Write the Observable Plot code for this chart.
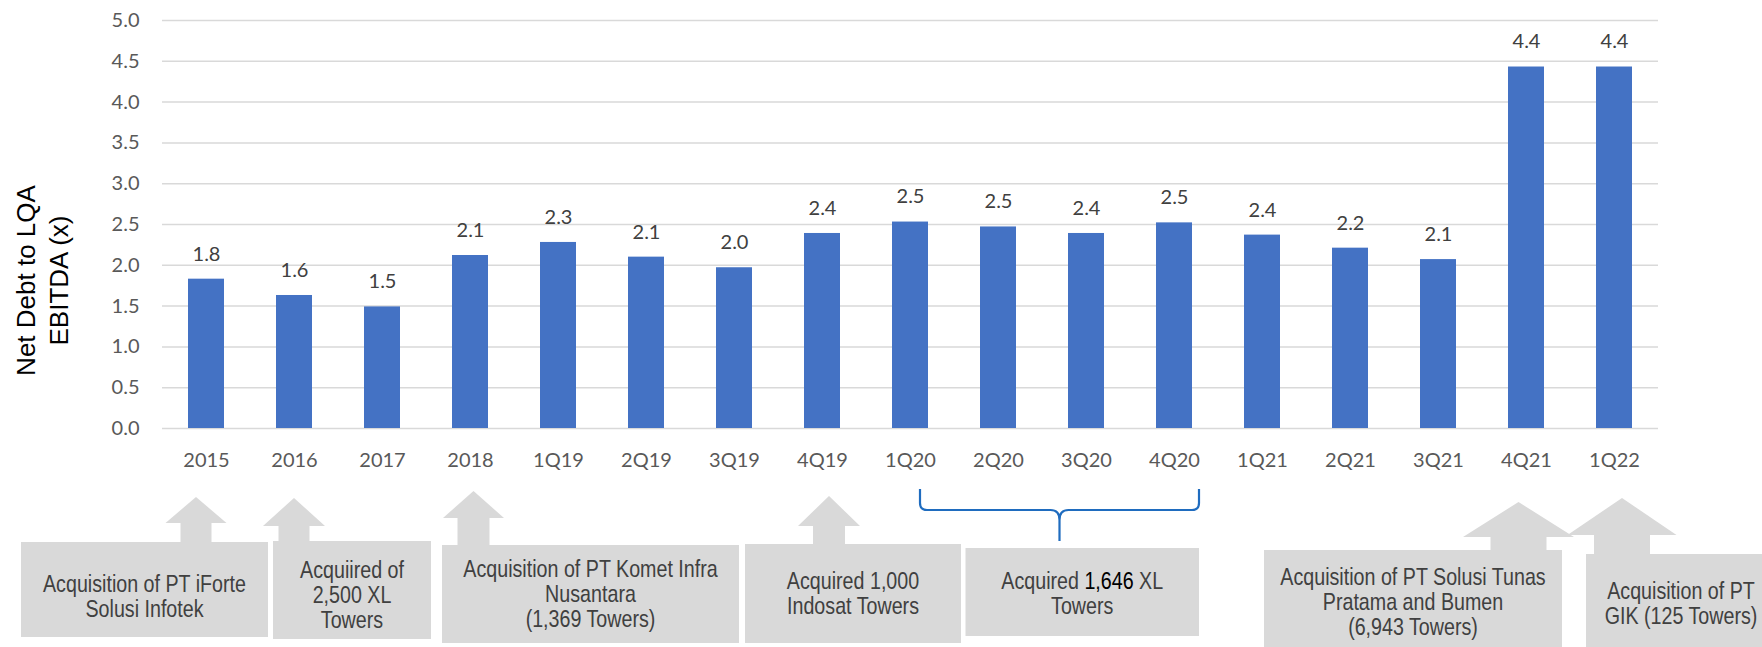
<!DOCTYPE html>
<html><head><meta charset="utf-8">
<script src="https://cdn.jsdelivr.net/npm/d3@7"></script>
<script src="https://cdn.jsdelivr.net/npm/@observablehq/plot@0.6"></script>
<style>html,body{margin:0;padding:0;background:#fff;overflow:hidden}</style>
</head><body><div id="chart"></div>
<script>
// ---- data ----
const categories = ["2015","2016","2017","2018","1Q19","2Q19","3Q19","4Q19","1Q20","2Q20","3Q20","4Q20","1Q21","2Q21","3Q21","4Q21","1Q22"];
const ratios = [1.83,1.63,1.49,2.12,2.28,2.10,1.97,2.39,2.53,2.47,2.39,2.52,2.37,2.21,2.07,4.43,4.43];
const yTicks = [0,0.5,1,1.5,2,2.5,3,3.5,4,4.5,5];
const yTitle = ["Net Debt to LQA", "EBITDA (x)"];
const annoLines = [
  ["Acquisition of PT iForte","Solusi Infotek"],
  ["Acquiired of","2,500 XL","Towers"],
  ["Acquisition of PT Komet Infra","Nusantara","(1,369 Towers)"],
  ["Acquired 1,000","Indosat Towers"],
  ["Acquired 1,646 XL","Towers"],
  ["Acquisition of PT Solusi Tunas","Pratama and Bumen","(6,943 Towers)"],
  ["Acquisition of PT","GIK (125 Towers)"]
];
const annoFrom = ["2015","2016","2018","4Q19","1Q20","4Q21","1Q22"];
const annoTo   = ["2015","2016","2018","4Q19","4Q20","4Q21","1Q22"];
const annoHighlight = "1,646";

const data = categories.map((c, i) => ({cat: c, value: ratios[i]}));
const fmt = d3.format(".1f");

const plot = Plot.plot({
  width: 1762, height: 647,
  marginTop: 20, marginBottom: 219, marginLeft: 162, marginRight: 104,
  style: {fontFamily: "Lato, 'Open Sans', sans-serif", fontSize: "20px", background: "#fff", color: "#595959"},
  x: {domain: categories, paddingInner: 0.59, paddingOuter: 0.295, axis: null},
  y: {domain: [0, 5], axis: null},
  marks: [
    Plot.ruleY(yTicks, {stroke: "#d9d9d9", strokeWidth: 1.5}),
    Plot.barY(data, {x: "cat", y: "value", fill: "#4472c4"}),
    Plot.text(data, {x: "cat", y: "value", text: d => fmt(d.value), dy: -25, fontSize: 20, fill: "#404040"}),
    Plot.axisY(yTicks, {tickSize: 0, tickPadding: 23, tickFormat: fmt, fontSize: 20, color: "#595959", label: null}),
    Plot.axisX({tickSize: 0, tickPadding: 24, fontSize: 20, color: "#595959", label: null}),
    Plot.text([yTitle.join("\n")], {frameAnchor: "left", rotate: -90, dx: -121.5, dy: 56, fontSize: 26, lineHeight: 1.27,
      fontFamily: "'Liberation Sans', Arial, sans-serif", fill: "#000", textAnchor: "middle"})
  ]
});
document.getElementById("chart").appendChild(plot);

// ---- annotations placed through the plot's scales ----
const sx = plot.scale("x"), sy = plot.scale("y");
const bw = sx.bandwidth;
const cx = c => sx.apply(c) + bw / 2;
const base = sy.apply(0);
const svg = d3.select(plot);
const g = svg.append("g").attr("aria-label", "annotations");
const grey = "#d9d9d9";

// arrows: [annotation index, x offset, tip, head base, head half width, shaft half width, shaft bottom]
const arrowSpec = [
  [0, -10, 69, 95, 30.5, 15.5, 115],
  [1, 0, 70, 98, 31, 15.5, 114],
  [2, 3.5, 63, 90, 30.5, 16, 118],
  [3, 7, 68, 98, 31, 16, 117],
  [5, -7.5, 74, 109, 55.5, 28, 123],
  [6, 8, 70, 107, 54.5, 28, 127]
];
for (const [k, off, tip, hb, hw, sw, bot] of arrowSpec) {
  const x0 = cx(annoFrom[k]) + off;
  const pts = [[x0, base + tip], [x0 + hw, base + hb], [x0 + sw, base + hb], [x0 + sw, base + bot],
               [x0 - sw, base + bot], [x0 - sw, base + hb], [x0 - hw, base + hb]];
  g.append("polygon").attr("points", pts.map(p => p.join(",")).join(" ")).attr("fill", grey);
}

// brace over 1Q20..4Q20
{
  const xl = cx("1Q20") + 10, xr = cx("4Q20") + 25, xm = (xl + xr) / 2;
  const t = base + 61, m = base + 82, b = base + 113;
  const p = `M${xl},${t} V${m - 7} Q${xl},${m} ${xl + 7},${m} H${xm - 9} Q${xm},${m} ${xm},${m + 10} V${b}` +
            ` M${xm},${m + 10} Q${xm},${m} ${xm + 9},${m} H${xr - 7} Q${xr},${m} ${xr},${m - 7} V${t}`;
  g.append("path").attr("d", p).attr("fill", "none").attr("stroke", "#1f6cbf").attr("stroke-width", 2.2);
}

// boxes: [left offset, right offset, top, bottom, text centre]
const boxSpec = [
  [-185, 62, 114, 209, 168],
  [-21, 137, 113, 211, 167],
  [-28, 269, 117, 215, 166],
  [-77, 139, 116, 215, 165],
  [55.5, 25, 120, 208, 165.5],
  [-262, 36, 122, 225, 173.5],
  [-28, 162, 126, 225, 175.5]
];
const squeeze = 0.82; // narrow face
boxSpec.forEach(([lo, ro, tp, bt, tc], k) => {
  const x1 = cx(annoFrom[k]) + lo, x2 = cx(annoTo[k]) + ro;
  g.append("rect").attr("x", x1).attr("y", base + tp).attr("width", x2 - x1).attr("height", bt - tp).attr("fill", grey);
  const lines = annoLines[k];
  const step = 25;
  const xm = k === 6 ? cx(annoFrom[k]) + 67 : (x1 + x2) / 2;
  const y0 = base + tc - (lines.length - 1) * step / 2 + 8.5;
  const txt = g.append("text")
    .attr("text-anchor", "middle")
    .attr("transform", `translate(${xm},0) scale(${squeeze},1)`)
    .attr("font-family", "'Liberation Sans', Arial, sans-serif")
    .attr("font-size", 24).attr("fill", "#404040");
  lines.forEach((ln, j) => {
    const parts = ln.split(annoHighlight);
    const line = txt.append("tspan").attr("x", 0).attr("y", y0 + j * step);
    parts.forEach((pt, q) => {
      if (q > 0) line.append("tspan").attr("fill", "#000").text(annoHighlight);
      if (pt) line.append("tspan").text(pt);
    });
  });
});
</script>
</body></html>
